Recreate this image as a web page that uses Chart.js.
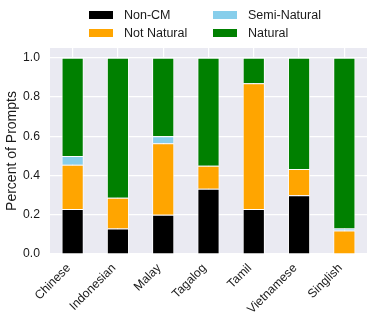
<!DOCTYPE html>
<html>
<head>
<meta charset="utf-8">
<script src="https://cdn.jsdelivr.net/npm/chart.js@4"></script>
<style>
  body { margin: 0; background: #fff; }
  #wrap { position: relative; width: 374px; height: 325px; }
  #legend {
    position: absolute; left: 89px; top: 7px;
    display: grid; grid-template-columns: 124px auto; row-gap: 3px;
    font: 12.5px "Liberation Sans", Arial, sans-serif; color: #1a1a1a;
  }
  .item { display: flex; align-items: center; height: 15px; }
  .sw { width: 24px; height: 8px; margin-right: 11px; }
</style>
</head>
<body>
<div id="wrap">
  <canvas id="chart" width="374" height="325"></canvas>
  <div id="legend"></div>
</div>
<script>
// languages on the x axis
const languages = ["Chinese", "Indonesian", "Malay", "Tagalog", "Tamil", "Vietnamese", "Singlish"];

// share of prompts per label
const nonCM       = [0.23, 0.13, 0.20, 0.333, 0.23, 0.30, 0.00];
const notNatural  = [0.225, 0.157, 0.365, 0.117, 0.64, 0.133, 0.12];
const semiNatural = [0.045, 0.00, 0.035, 0.00, 0.00, 0.00, 0.01];
const natural     = [0.50, 0.713, 0.40, 0.55, 0.13, 0.567, 0.87];

const yTicks = [0, 0.2, 0.4, 0.6, 0.8, 1.0];

const series = [
  { label: "Non-CM", data: nonCM, color: "#000000" },
  { label: "Not Natural", data: notNatural, color: "#FFA500" },
  { label: "Semi-Natural", data: semiNatural, color: "#87CEEB" },
  { label: "Natural", data: natural, color: "#008000" }
];

// legend in two columns, filled column by column like matplotlib
function buildLegend() {
  const box = document.getElementById("legend");
  const order = [0, 2, 1, 3];
  order.forEach(i => {
    const s = series[i];
    const item = document.createElement("div");
    item.className = "item";
    item.innerHTML = `<span class="sw" style="background:${s.color}"></span><span>${s.label}</span>`;
    box.appendChild(item);
  });
}

// grey plot background
const plotBg = {
  id: "plotBg",
  beforeDraw(chart) {
    const { ctx, chartArea: a } = chart;
    ctx.save();
    ctx.fillStyle = "#EAEAF2";
    ctx.fillRect(a.left, a.top, a.right - a.left, a.bottom - a.top);
    ctx.restore();
  }
};

const font = { family: "'Liberation Sans', Arial, sans-serif", size: 12.2 };

new Chart(document.getElementById("chart"), {
  type: "bar",
  data: {
    labels: languages,
    datasets: series.map(s => ({
      label: s.label,
      data: s.data,
      backgroundColor: s.color,
      borderColor: "rgba(255,255,255,0.85)",
      borderWidth: 1,
      barPercentage: 0.49,
      categoryPercentage: 1
    }))
  },
  options: {
    responsive: false,
    animation: false,
    layout: { padding: { top: 48, right: 7, left: 0, bottom: 0 } },
    plugins: { legend: { display: false }, tooltip: { enabled: false } },
    scales: {
      x: {
        stacked: true,
        grid: { color: "#FFFFFF", lineWidth: 1.2, offset: false, drawTicks: false },
        border: { display: false },
        ticks: { color: "#1a1a1a", font: font, maxRotation: 45, minRotation: 45,
                 padding: 7, labelOffset: -4 },
        afterFit(scale) { scale.height = 71; }
      },
      y: {
        stacked: true,
        min: 0,
        max: 1.05,
        grid: { color: "#FFFFFF", lineWidth: 1.2, drawTicks: false },
        border: { display: false },
        afterBuildTicks(scale) { scale.ticks = yTicks.map(v => ({ value: v })); },
        ticks: { color: "#1a1a1a", font: font, padding: 10, callback: v => v.toFixed(1) },
        title: { display: true, text: "Percent of Prompts", color: "#1a1a1a",
                 font: { family: font.family, size: 14 }, padding: { top: 4, bottom: 0 } },
        afterFit(scale) { scale.width = 50; }
      }
    }
  },
  plugins: [plotBg]
});

buildLegend();
</script>
</body>
</html>
